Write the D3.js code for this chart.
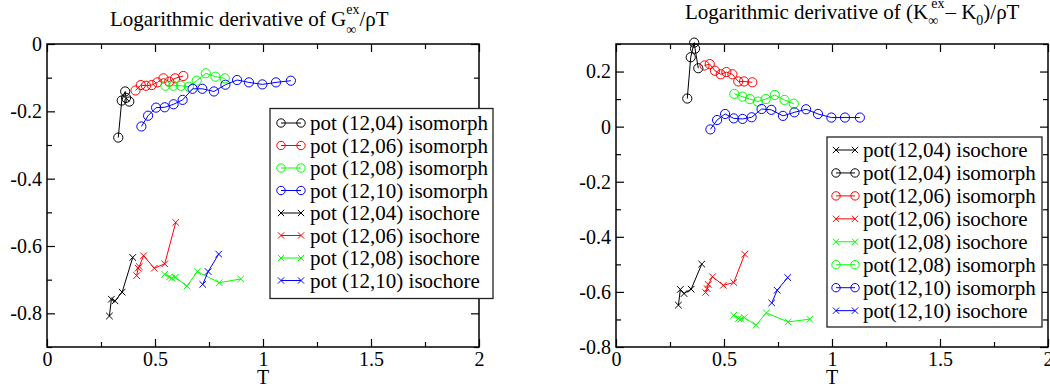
<!DOCTYPE html>
<html>
<head>
<meta charset="utf-8">
<script src="https://cdn.jsdelivr.net/npm/d3@7"></script>
<style>
  html, body { margin: 0; padding: 0; background: #fff; }
  svg { display: block; }
  text { font-family: "Liberation Serif", "Times New Roman", serif; fill: #000; }
</style>
</head>
<body>
<svg id="chart" width="1050" height="389"></svg>
<script>
// ---- temperatures along isomorphs and isochores ----
const isoT04 = [0.330, 0.346, 0.362, 0.366, 0.381];
const isoT06 = [0.410, 0.434, 0.458, 0.485, 0.511, 0.539, 0.566, 0.593, 0.631];
const isoT08 = [0.548, 0.585, 0.620, 0.657, 0.693, 0.735, 0.780, 0.823];
const isoT10 = [0.437, 0.468, 0.505, 0.545, 0.586, 0.628, 0.674, 0.719, 0.773, 0.826, 0.880, 0.935, 0.997, 1.060, 1.129];
const chT04 = [0.289, 0.298, 0.315, 0.348, 0.397];
const chT06 = [0.415, 0.422, 0.427, 0.447, 0.497, 0.545, 0.596];
const chT08 = [0.545, 0.567, 0.578, 0.594, 0.648, 0.696, 0.797, 0.897];
const chT10 = [0.721, 0.746, 0.795];

// ---- logarithmic derivative of G_inf^ex / rho T ----
const gIso04 = [-0.278, -0.168, -0.141, -0.160, -0.171];
const gIso06 = [-0.138, -0.122, -0.124, -0.122, -0.114, -0.102, -0.112, -0.102, -0.095];
const gIso08 = [-0.124, -0.124, -0.124, -0.127, -0.109, -0.087, -0.097, -0.102];
const gIso10 = [-0.245, -0.213, -0.189, -0.188, -0.179, -0.166, -0.133, -0.133, -0.141, -0.121, -0.107, -0.114, -0.120, -0.114, -0.109];
const gCh04 = [-0.808, -0.758, -0.763, -0.737, -0.634];
const gCh06 = [-0.688, -0.666, -0.661, -0.629, -0.666, -0.653, -0.530];
const gCh08 = [-0.684, -0.692, -0.696, -0.693, -0.719, -0.676, -0.709, -0.698];
const gCh10 = [-0.714, -0.676, -0.624];

// ---- logarithmic derivative of (K_inf^ex - K_0) / rho T ----
const kIso04 = [0.102, 0.252, 0.305, 0.283, 0.212];
const kIso06 = [0.222, 0.227, 0.203, 0.190, 0.198, 0.190, 0.164, 0.164, 0.161];
const kIso08 = [0.119, 0.109, 0.100, 0.091, 0.100, 0.115, 0.097, 0.083];
const kIso10 = [-0.010, 0.024, 0.046, 0.030, 0.028, 0.034, 0.064, 0.061, 0.039, 0.052, 0.063, 0.046, 0.033, 0.033, 0.033];
const kCh04 = [-0.648, -0.591, -0.606, -0.590, -0.499];
const kCh06 = [-0.602, -0.588, -0.573, -0.545, -0.576, -0.566, -0.463];
const kCh08 = [-0.685, -0.697, -0.699, -0.693, -0.721, -0.676, -0.709, -0.699];
const kCh10 = [-0.640, -0.594, -0.548];

// ---- tick values ----
const xMajor = [0, 0.5, 1, 1.5, 2];
const xMinor = [0.25, 0.75, 1.25, 1.75];
const xTickLabels = ["0", "0.5", "1", "1.5", "2"];
const gYMajor = [-0.8, -0.6, -0.4, -0.2, 0];
const gYMinor = [-0.9, -0.7, -0.5, -0.3, -0.1];
const gYLabels = ["-0.8", "-0.6", "-0.4", "-0.2", "0"];
const kYMajor = [-0.8, -0.6, -0.4, -0.2, 0, 0.2];
const kYMinor = [-0.7, -0.5, -0.3, -0.1, 0.1, 0.3];
const kYLabels = ["-0.8", "-0.6", "-0.4", "-0.2", "0", "0.2"];

const colors = { "04": "#000000", "06": "#ff0000", "08": "#00ff00", "10": "#0000ff" };

const zip = (xs, ys) => xs.map((x, i) => ({ x, y: ys[i] }));

const gSeries = [
  { key: "04", kind: "iso", pts: zip(isoT04, gIso04) },
  { key: "06", kind: "iso", pts: zip(isoT06, gIso06) },
  { key: "08", kind: "iso", pts: zip(isoT08, gIso08) },
  { key: "10", kind: "iso", pts: zip(isoT10, gIso10) },
  { key: "04", kind: "ch", pts: zip(chT04, gCh04) },
  { key: "06", kind: "ch", pts: zip(chT06, gCh06) },
  { key: "08", kind: "ch", pts: zip(chT08, gCh08) },
  { key: "10", kind: "ch", pts: zip(chT10, gCh10) }
];
const kSeries = [
  { key: "04", kind: "ch", pts: zip(chT04, kCh04) },
  { key: "04", kind: "iso", pts: zip(isoT04, kIso04) },
  { key: "06", kind: "iso", pts: zip(isoT06, kIso06) },
  { key: "06", kind: "ch", pts: zip(chT06, kCh06) },
  { key: "08", kind: "ch", pts: zip(chT08, kCh08) },
  { key: "08", kind: "iso", pts: zip(isoT08, kIso08) },
  { key: "10", kind: "iso", pts: zip(isoT10, kIso10) },
  { key: "10", kind: "ch", pts: zip(chT10, kCh10) }
];

const gLegend = [
  ["04", "iso", "pot (12,04) isomorph"],
  ["06", "iso", "pot (12,06) isomorph"],
  ["08", "iso", "pot (12,08) isomorph"],
  ["10", "iso", "pot (12,10) isomorph"],
  ["04", "ch", "pot (12,04) isochore"],
  ["06", "ch", "pot (12,06) isochore"],
  ["08", "ch", "pot (12,08) isochore"],
  ["10", "ch", "pot (12,10) isochore"]
];
const kLegend = [
  ["04", "ch", "pot(12,04) isochore"],
  ["04", "iso", "pot(12,04) isomorph"],
  ["06", "iso", "pot(12,06) isomorph"],
  ["06", "ch", "pot(12,06) isochore"],
  ["08", "ch", "pot(12,08) isochore"],
  ["08", "iso", "pot(12,08) isomorph"],
  ["10", "iso", "pot(12,10) isomorph"],
  ["10", "ch", "pot(12,10) isochore"]
];

const svg = d3.select("#chart");

function marker(g, kind, cx, cy, color, r) {
  if (kind === "iso") {
    g.append("circle").attr("cx", cx).attr("cy", cy).attr("r", r)
      .attr("fill", "none").attr("stroke", color).attr("stroke-width", 1);
  } else {
    const s = r * 0.75;
    g.append("path")
      .attr("d", `M${cx - s},${cy - s}L${cx + s},${cy + s}M${cx - s},${cy + s}L${cx + s},${cy - s}`)
      .attr("stroke", color).attr("stroke-width", 1).attr("fill", "none");
  }
}

// Builds a title from plain runs and stacked superscript/subscript pairs.
function title(x, y, parts, size) {
  const g = svg.append("g");
  let cx = x;
  parts.forEach(p => {
    if (p.t !== undefined) {
      const t = g.append("text").attr("x", cx).attr("y", y).attr("font-size", size).text(p.t);
      cx += t.node().getComputedTextLength();
    } else {
      let w = 0;
      if (p.sup) {
        const t = g.append("text").attr("x", cx + (p.supDx || 0)).attr("y", y - p.up)
          .attr("font-size", p.size).text(p.sup);
        w = Math.max(w, t.node().getComputedTextLength() + (p.supDx || 0));
      }
      if (p.sub) {
        const t = g.append("text").attr("x", cx).attr("y", y + p.down)
          .attr("font-size", p.size).text(p.sub);
        w = Math.max(w, t.node().getComputedTextLength());
      }
      cx += w + (p.after || 0);
    }
  });
}

function panel(opt) {
  const { left, right, top, bottom, yDomain, yMajor, yMinor, yLabels, series, legend } = opt;
  const x = d3.scaleLinear().domain([0, 2]).range([left, right]);
  const y = d3.scaleLinear().domain(yDomain).range([bottom, top]);
  const g = svg.append("g");

  const MAJ = 8, MIN = 5;
  // bottom axis with labels
  g.append("g").attr("transform", `translate(0,${bottom})`)
    .call(d3.axisBottom(x).tickValues(xMajor).tickSize(-MAJ).tickPadding(5)
      .tickFormat((d, i) => xTickLabels[i]))
    .call(a => a.select(".domain").remove());
  g.append("g").attr("transform", `translate(0,${bottom})`)
    .call(d3.axisBottom(x).tickValues(xMinor).tickSize(-MIN).tickFormat(""))
    .call(a => a.select(".domain").remove());
  // top mirror ticks
  g.append("g").attr("transform", `translate(0,${top})`)
    .call(d3.axisTop(x).tickValues(xMajor).tickSize(-MAJ).tickFormat(""))
    .call(a => a.select(".domain").remove());
  g.append("g").attr("transform", `translate(0,${top})`)
    .call(d3.axisTop(x).tickValues(xMinor).tickSize(-MIN).tickFormat(""))
    .call(a => a.select(".domain").remove());
  // left axis with labels
  g.append("g").attr("transform", `translate(${left},0)`)
    .call(d3.axisLeft(y).tickValues(yMajor).tickSize(-MAJ).tickPadding(5)
      .tickFormat((d, i) => yLabels[i]))
    .call(a => a.select(".domain").remove());
  g.append("g").attr("transform", `translate(${left},0)`)
    .call(d3.axisLeft(y).tickValues(yMinor).tickSize(-MIN).tickFormat(""))
    .call(a => a.select(".domain").remove());
  // right mirror ticks
  g.append("g").attr("transform", `translate(${right},0)`)
    .call(d3.axisRight(y).tickValues(yMajor).tickSize(-MAJ).tickFormat(""))
    .call(a => a.select(".domain").remove());
  g.append("g").attr("transform", `translate(${right},0)`)
    .call(d3.axisRight(y).tickValues(yMinor).tickSize(-MIN).tickFormat(""))
    .call(a => a.select(".domain").remove());

  g.selectAll(".tick line").attr("stroke", "#000").attr("stroke-width", 1.2);
  g.selectAll(".tick text").attr("font-family", "Liberation Serif").attr("font-size", 20).attr("fill", "#000");

  g.append("rect").attr("x", left).attr("y", top)
    .attr("width", right - left).attr("height", bottom - top)
    .attr("fill", "none").attr("stroke", "#000").attr("stroke-width", 1.5);

  g.append("text").attr("x", (left + right) / 2).attr("y", bottom + 37)
    .attr("text-anchor", "middle").attr("font-size", 20).text("T");

  // data
  const line = d3.line().x(d => x(d.x)).y(d => y(d.y));
  series.forEach(s => {
    const c = colors[s.key];
    g.append("path").datum(s.pts).attr("d", line)
      .attr("fill", "none").attr("stroke", c).attr("stroke-width", 1);
    const mg = g.append("g");
    s.pts.forEach(p => marker(mg, s.kind, x(p.x), y(p.y), c, s.kind === "iso" ? 4.6 : 4.4));
  });

  // legend
  const L = legend;
  const lg = svg.append("g");
  lg.append("rect").attr("x", L.x0).attr("y", L.y0)
    .attr("width", L.x1 - L.x0).attr("height", L.y1 - L.y0)
    .attr("fill", "#fff").attr("stroke", "#222").attr("stroke-width", 1.3);
  L.items.forEach((it, i) => {
    const cy = L.row0 + i * L.step;
    const c = colors[it[0]];
    lg.append("line").attr("x1", L.s0).attr("x2", L.s1).attr("y1", cy).attr("y2", cy)
      .attr("stroke", c).attr("stroke-width", 1);
    marker(lg, it[1], L.s0, cy, c, 4.2);
    marker(lg, it[1], L.s1, cy, c, 4.2);
    lg.append("text").attr("x", L.tx).attr("y", cy).attr("dy", "0.34em")
      .attr("font-size", 21).text(it[2]);
  });
}

panel({
  left: 47, right: 479, top: 44, bottom: 347,
  yDomain: [-0.9, 0], yMajor: gYMajor, yMinor: gYMinor, yLabels: gYLabels,
  series: gSeries,
  legend: { x0: 270, x1: 493, y0: 108.5, y1: 298.5, row0: 123, step: 22.5,
            s0: 281, s1: 301, tx: 310, items: gLegend }
});

panel({
  left: 616, right: 1048, top: 44, bottom: 347,
  yDomain: [-0.8, 0.3], yMajor: kYMajor, yMinor: kYMinor, yLabels: kYLabels,
  series: kSeries,
  legend: { x0: 827, x1: 1042, y0: 137, y1: 327, row0: 150, step: 22.95,
            s0: 836, s1: 855, tx: 863, items: kLegend }
});

title(110, 26, [
  { t: "Logarithmic derivative of G" },
  { sup: "ex", sub: "\u221e", up: 12, down: 8, size: 14, after: 0 },
  { t: "/\u03c1T" }
], 21);

title(685, 19, [
  { t: "Logarithmic derivative of (K" },
  { sup: "ex", sub: "\u221e", up: 11, down: 6, size: 14, supDx: 3, after: 1 },
  { t: " \u2013 K" },
  { sup: null, sub: "0", up: 0, down: 6, size: 14, after: 0 },
  { t: ")/\u03c1T" }
], 21);
</script>
</body>
</html>
